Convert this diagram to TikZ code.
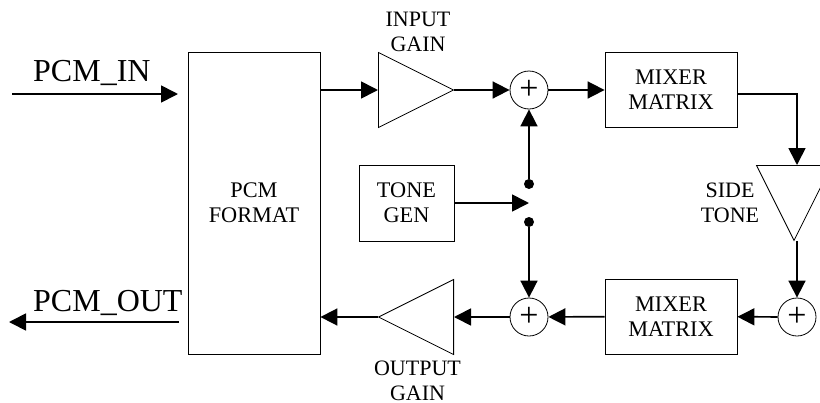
\documentclass[tikz,border=0pt]{standalone}
\usepackage{fontspec}
\setmainfont{Liberation Serif}
\usetikzlibrary{arrows.meta, shapes.geometric, calc}

\tikzset{
    sig/.style={-{Triangle[length=17pt,width=17pt]}, line width=1.7pt},
    blockbox/.style={draw, line width=0.8pt, align=center, inner sep=0pt,
        font=\fontsize{22.3}{25}\selectfont},
    label/.style={align=center, inner sep=0pt, font=\fontsize{22}{25}\selectfont},
    biglabel/.style={inner sep=0pt, anchor=base west, font=\fontsize{32}{36}\selectfont},
    adder/.style={draw, circle, line width=0.8pt, minimum size=38pt, inner sep=0pt,
        font=\fontsize{34}{34}\selectfont},
    gain/.style={draw, isosceles triangle, isosceles triangle apex angle=53.13,
        isosceles triangle stretches, minimum width=75pt, minimum height=75pt,
        line width=0.8pt, inner sep=0pt, anchor=lower side},
    dot/.style={circle, fill, minimum size=10pt, inner sep=0pt}
}

\begin{document}
\begin{tikzpicture}[x=1pt, y=-1pt]
        \useasboundingbox (0,0) rectangle (820,402);

        % Blocks
        \node[blockbox, minimum width=132pt, minimum height=302pt] (pcm) at (254,203) {PCM\\FORMAT};
        \node[blockbox, minimum width=95pt, minimum height=76pt] (tone) at (406.5,203) {TONE\\GEN};
        \node[blockbox, minimum width=132pt, minimum height=75pt] (mixup) at (671,90) {MIXER\\MATRIX};
        \node[blockbox, minimum width=132pt, minimum height=75pt] (mixlow) at (671,316.5) {MIXER\\MATRIX};

        % Gain triangles
        \node[gain, shape border rotate=0] (ingain) at (378,90) {};
        \node[gain, shape border rotate=180] (outgain) at (454,317) {};
        \node[gain, shape border rotate=270] (sidegain) at (794,165) {};

        % Adders
        \node[adder] (addin) at (529,90) {+};
        \node[adder] (addout) at (529,317) {+};
        \node[adder] (addside) at (797,317) {+};

        % Switch contacts
        \node[dot] (swup) at (529,184) {};
        \node[dot] (swlow) at (529,222) {};
        \coordinate (swmid) at (529,203);

        % Free ends
        \coordinate (instart) at (12,94);
        \coordinate (inend) at (178,94);
        \coordinate (outstart) at (179,322);
        \coordinate (outend) at (9,322);
        \coordinate (mixout) at (737,94);

        % Labels
        \node[biglabel] (inlabel) at (33,81) {PCM\_IN};
        \node[biglabel] (outlabel) at (33,311) {PCM\_OUT};
        \node[label] (inname) at (418,32) {INPUT\\GAIN};
        \node[label] (outname) at (417.5,381) {OUTPUT\\GAIN};
        \node[label] (sidename) at (730,203) {SIDE\\TONE};

        % Top path
        \draw[sig] (instart) -- (inend);
        \draw[sig] (pcm.east |- ingain.lower side) -- (ingain.lower side);
        \draw[sig] (ingain.apex) -- (addin);
        \draw[sig] (addin) -- (mixup);
        \draw[sig] (mixout) -| (addside |- sidegain.lower side);

        % Side tone down to the bottom path
        \draw[sig] (addside |- sidegain.apex) -- (addside);
        \draw[sig] (addside) -- (mixlow);
        \draw[sig] (mixlow) -- (addout);
        \draw[sig] (addout) -- (outgain.lower side);
        \draw[sig] (outgain.apex) -- (pcm.east |- outgain.apex);
        \draw[sig] (outstart) -- (outend);

        % Tone generator and switch
        \draw[sig] (tone) -- (swmid);
        \draw[sig] (swup) -- (addin);
        \draw[sig] (swlow) -- (addout);
    \end{tikzpicture}
\end{document}
